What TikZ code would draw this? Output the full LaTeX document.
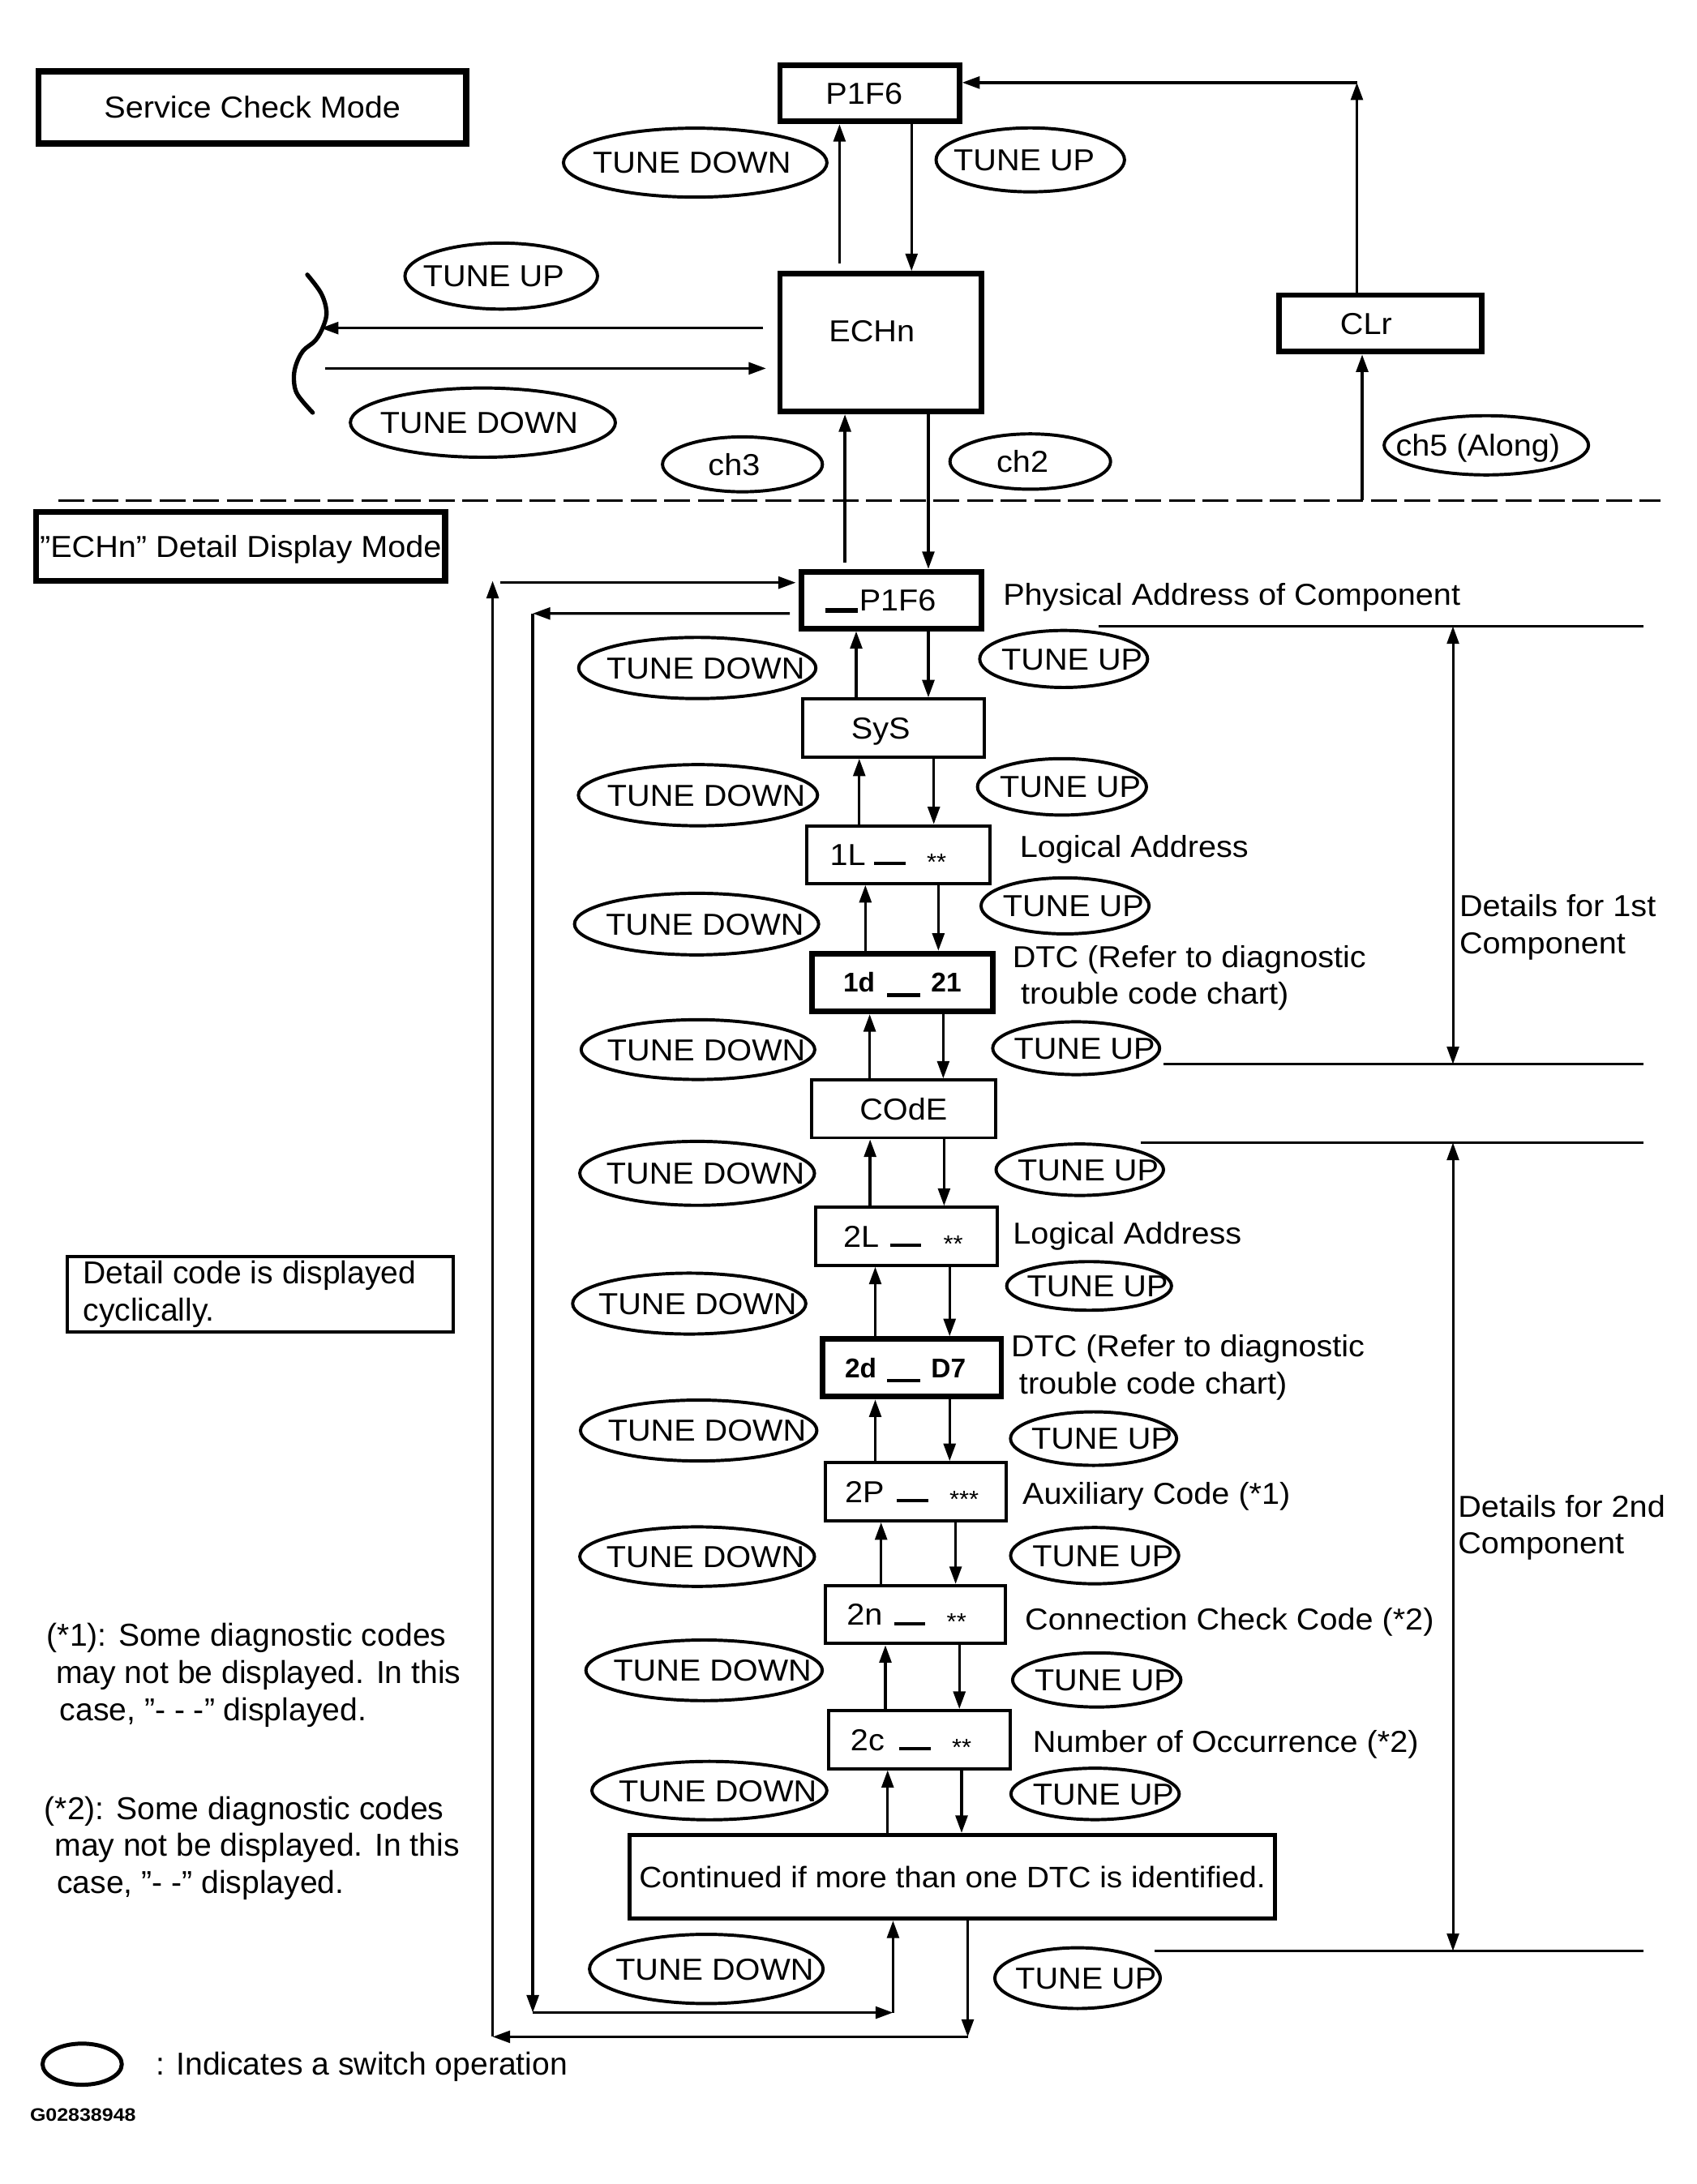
\documentclass[tikz,border=0pt]{standalone}
\usepackage{fontspec}
\setmainfont{Liberation Sans}
\newfontfamily\diagfont[FakeStretch=1.06]{Liberation Sans}
\newfontfamily\codefont[FakeStretch=1.12]{Liberation Sans}
\usetikzlibrary{shapes.geometric,arrows.meta}
\newcommand\dbar{\rule{22.5pt}{2.4pt}}
\newcommand\thickbar{\rule[-3.5pt]{24pt}{2.8pt}}
\newcommand\stars[1]{\raisebox{-3.5pt}{\fontsize{17}{17}\selectfont #1}}
\newcommand\boxtext[2]{\makebox[0pt][l]{\hspace{#1pt}#2}}
\newcommand\offtext[2]{\makebox[0pt]{\hspace{#1pt}#2}}
\tikzset{
  sz/.style 2 args={minimum width=#1pt,minimum height=#2pt},
  dfont/.style={font=\diagfont\fontsize{21.8}{26}\selectfont},
  box/.style={draw, rectangle, inner sep=0pt, text height=15.5pt, text depth=0pt, dfont},
  thinbox/.style={box, line width=2.3pt},
  thickbox/.style={box, line width=4pt},
  heavybox/.style={box, line width=4.5pt},
  boldbox/.style={box, line width=4pt, text height=14pt, font=\fontsize{19.5}{24}\selectfont\bfseries},
  sw/.style={draw, ellipse, line width=2.3pt, inner sep=0pt, text height=15.5pt, text depth=0pt, dfont},
  txt/.style={inner sep=0pt, anchor=base west, dfont},
  note/.style={inner sep=0pt, anchor=base west, font=\fontsize{22.8}{27}\selectfont},
  arr/.style={line width=2pt, -{Triangle[length=12.6pt,width=8.6pt]}},
  dimarr/.style={line width=1.75pt, {Triangle[length=12.6pt,width=8.6pt]}-{Triangle[length=12.6pt,width=8.6pt]}},
  thinline/.style={line width=1.75pt}
}
\begin{document}
\begin{tikzpicture}[x=1pt,y=-1pt]
\useasboundingbox[fill=white] (0,0) rectangle (1220,1571);

% ---------- Service check mode ----------
\node[heavybox, sz={307.7}{52}] (scm) at (181.5,77.25) {Service Check Mode};
\node[thickbox, sz={129}{40.5}] (p1f6t) at (625.5,67.05) {\offtext{-8}{P1F6}};
\node[thickbox, sz={145}{99}, text depth=17pt] (echn) at (633.5,246.5) {\offtext{-13}{ECHn}};
\node[thickbox, sz={145.8}{40.7}] (clr) at (992.7,232.65) {\offtext{-20.4}{CLr}};

\node[sw, sz={189.5}{49.6}] (etd0) at (500,117) {\offtext{-4.8}{TUNE DOWN}};
\node[sw, sz={135.5}{46}] (etu0) at (741,115) {\offtext{-8.8}{TUNE UP}};
\node[sw, sz={138.5}{47.5}] (eltu) at (360.5,198.6) {\offtext{-11}{TUNE UP}};
\node[sw, sz={190.6}{49.8}] (eltd) at (347.3,304) {\offtext{-5.4}{TUNE DOWN}};
\node[sw, sz={115}{39.5}] (ech3) at (534,334) {\offtext{-12}{ch3}};
\node[sw, sz={115.5}{39.8}] (ech2) at (741,332) {\offtext{-11.2}{ch2}};
\node[sw, sz={147}{42.6}] (ech5) at (1069,320.3) {\offtext{-12}{ch5 (Along)}};

\draw[arr, shorten <=5.5pt] (603.8,0 |- echn.north) -- (603.8,0 |- p1f6t.south);
\draw[arr] (655.6,0 |- p1f6t.south) -- (655.6,0 |- echn.north);
\coordinate (clrtop) at (975.9,59.4);
\draw[arr] (975.9,0 |- clr.north) -- (clrtop);
\draw[arr] (clrtop) -- (p1f6t.east |- clrtop);
\coordinate (ch5base) at (979.7,360);
\draw[arr] (ch5base) -- (ch5base |- clr.south);

\coordinate (brk1) at (230.8,236);
\coordinate (brk2) at (234,265);
\draw[arr, shorten <=10pt] (echn.west |- brk1) -- (brk1);
\draw[arr, shorten >=8pt] (brk2) -- (echn.west |- brk2);
\draw[line width=3.1pt, line cap=round] plot[smooth, tension=0.6] coordinates {(221,197.6) (230.9,210.9) (234.8,223.9) (232.7,234.3) (227,244.7) (217.9,252.5) (212.7,263) (211.4,273.4) (214,283.8) (224.9,296.8)};

\draw[thinline, dash pattern=on 18.7pt off 5.5pt] (42,360) -- (1194,360);

% ---------- Detail display mode ----------
\node[heavybox, sz={294.3}{49.5}] (ddm) at (173.1,393) {”ECHn” Detail Display Mode};

\node[thickbox, sz={129.6}{40.7}] (p1f6b) at (641.2,431.65) {\boxtext{-47.6}{\rule[-1.3pt]{23.4pt}{3.6pt}\hspace{1pt}P1F6}};
\node[thinbox, sz={130.7}{41.7}] (sys) at (642.8,523.7) {\boxtext{-30.6}{SyS}};
\node[thinbox, sz={131.4}{41.4}] (l1) at (646.15,614.75) {\boxtext{-49.2}{1L\hspace{6pt}\dbar\hspace{15.5pt}\stars{**}}};
\node[boldbox, sz={130.5}{41.6}] (d1) at (649.05,706.7) {\boxtext{-42.5}{1d\hspace{8.7pt}\thickbar\hspace{7.7pt}21}};
\node[thinbox, sz={132.1}{41.5}] (code) at (649.8,797.7) {COdE};
\node[thinbox, sz={130.9}{41.5}] (l2) at (651.9,889.3) {\boxtext{-45.4}{2L\hspace{7.8pt}\dbar\hspace{16pt}\stars{**}}};
\node[boldbox, sz={128.8}{41.5}] (d2) at (655.8,983.95) {\boxtext{-48.1}{2d\hspace{7.5pt}\thickbar\hspace{7.7pt}D7}};
\node[thinbox, sz={130}{41.7}] (p2) at (658.65,1073) {\boxtext{-51}{2P\hspace{9pt}\dbar\hspace{15.5pt}\stars{***}}};
\node[thinbox, sz={129.8}{41.7}] (n2) at (658.45,1161.4) {\boxtext{-49.5}{2n\hspace{8.3pt}\dbar\hspace{15.5pt}\stars{**}}};
\node[thinbox, sz={130.9}{41.7}] (c2) at (661.2,1251.3) {\boxtext{-49.5}{2c\hspace{10.6pt}\dbar\hspace{15.5pt}\stars{**}}};
\node[box, line width=3pt, sz={464}{60}, font=\diagfont\fontsize{21.3}{26}\selectfont] (cont) at (684.95,1350) {Continued if more than one DTC is identified.};

\draw[arr, shorten <=4.6pt] (607.7,0 |- p1f6b.north) -- (607.7,0 |- echn.south);
\draw[arr] (667.7,0 |- echn.south) -- (667.7,0 |- p1f6b.north);

\foreach \a/\b/\u/\d in {p1f6b/sys/615.8/667.7, sys/l1/618/671.6, l1/d1/622.4/674.9, d1/code/625.5/678.4, code/l2/625.8/679, l2/d2/629.5/683, d2/p2/629.5/683, p2/n2/633.7/687.3, n2/c2/636.8/690, c2/cont/638.4/691.6}{
  \draw[arr] (\u,0 |- \b.north) -- (\u,0 |- \a.south);
  \draw[arr] (\d,0 |- \a.south) -- (\d,0 |- \b.north);
}

% switch ellipses of the chain
\foreach \n/\x/\y/\w/\h in {1/501.5/480.5/170.6/44, 2/502/572/172/44, 3/501/664.7/175.6/44.3, 4/502/755/168/43, 5/501.4/844/168.8/46, 6/495.7/937.7/167.7/43.8, 7/502.5/1029/170/43.8, 8/501.4/1119.7/168.8/42.8, 9/506.4/1201.5/170/43.6, 10/510.2/1288/169/42, 11/508/1416.3/168/49.8}{
  \node[sw, sz={\w}{\h}] (td\n) at (\x,\y) {\offtext{12}{TUNE DOWN}};
}
\foreach \n/\x/\y/\w/\h in {1/765/474/120.7/41, 2/763.8/566/121.5/40.6, 3/766/651.6/120.8/40.3, 4/774/754/120/38, 5/776.6/841.4/120.4/37, 6/783.3/925/118.5/35, 7/786.5/1034.8/119.4/38.5, 8/787.3/1119/120.9/40.5, 9/788.8/1208.4/121/39, 10/787.6/1290.4/121/37, 11/775/1422.9/119/43.7}{
  \node[sw, sz={\w}{\h}] (tu\n) at (\x,\y) {\offtext{12}{TUNE UP}};
}

% loops
\coordinate (il1) at (383.2,441.3);
\coordinate (il2) at (383.2,1447.7);
\coordinate (il3) at (642.3,1447.7);
\draw[arr, shorten <=6.4pt] ([yshift=-9.65pt]p1f6b.west) -- (il1);
\draw[arr] (il1) -- (il2);
\draw[arr] (il2) -- (il3);
\draw[arr] (il3) -- (il3 |- cont.south);
\coordinate (ol1) at (696,1465.1);
\coordinate (ol2) at (354.3,1465.1);
\coordinate (ol3) at (354.3,417.8);
\coordinate (ol4) at (359.8,419.1);
\draw[arr] (696,0 |- cont.south) -- (ol1);
\draw[arr] (ol1) -- (ol2);
\draw[arr] (ol2) -- (ol3);
\draw[arr, shorten >=2pt] (ol4) -- (p1f6b.west |- ol4);

% right-hand brackets
\draw[thinline] (790,450.5) -- (1182,450.5);
\draw[dimarr] (1045,450.5) -- (1045,765.5);
\draw[thinline] (836.8,765.5) -- (1182,765.5);
\draw[thinline] (820.3,821.9) -- (1182,821.9);
\draw[dimarr] (1045,821.9) -- (1045,1403.4);
\draw[thinline] (830.4,1403.4) -- (1182,1403.4);

% labels
\node[txt] (tphys) at (721.3,435.6) {Physical Address of Component};
\node[txt] (tla1) at (733.3,616.7) {Logical Address};
\node[txt] (tdtc1a) at (728,696) {DTC (Refer to diagnostic};
\node[txt] (tdtc1b) at (734,722.2) {trouble code chart)};
\node[txt] (tla2) at (728.4,894.6) {Logical Address};
\node[txt] (tdtc2a) at (727,975.8) {DTC (Refer to diagnostic};
\node[txt] (tdtc2b) at (732.8,1003) {trouble code chart)};
\node[txt] (taux) at (735.2,1082.2) {Auxiliary Code (*1)};
\node[txt] (tconn) at (737,1172.3) {Connection Check Code (*2)};
\node[txt] (tnum) at (742.7,1260.3) {Number of Occurrence (*2)};
\node[txt] (tdet1a) at (1049.5,659) {Details for 1st};
\node[txt] (tdet1b) at (1049.5,685.8) {Component};
\node[txt] (tdet2a) at (1048.5,1091.3) {Details for 2nd};
\node[txt] (tdet2b) at (1048.5,1117.4) {Component};

% notes
\node[draw, line width=2.3pt, inner sep=0pt, sz={277.2}{54.5}] (dnote) at (187.1,930.95) {};
\node[note] (dn1) at (59.6,923.6) {Detail code is displayed};
\node[note] (dn2) at (59.6,950.2) {cyclically.};
\node[note] (n1a) at (33.5,1184.3) {(*1): Some diagnostic codes};
\node[note] (n1b) at (40.2,1211) {may not be displayed. In this};
\node[note] (n1c) at (42.9,1237.6) {case, ”- - -” displayed.};
\node[note] (n2a) at (31.8,1308.7) {(*2): Some diagnostic codes};
\node[note] (n2b) at (39.2,1335.3) {may not be displayed. In this};
\node[note] (n2c) at (40.8,1362) {case, ”- -” displayed.};

% legend
\node[draw, ellipse, line width=2.9pt, inner sep=0pt, sz={57}{29.6}] (leg) at (59.1,1484.8) {};
\node[note] (legt) at (111.8,1492.5) {: Indicates a switch operation};
\node[inner sep=0pt, anchor=base west, font=\codefont\fontsize{13}{15}\selectfont\bfseries] (gid) at (21.4,1526) {G02838948};
\end{tikzpicture}
\end{document}
